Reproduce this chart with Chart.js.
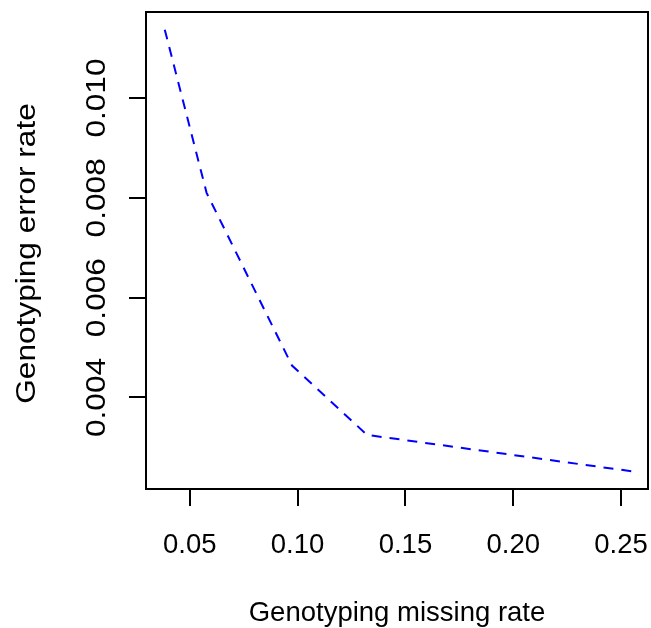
<!DOCTYPE html>
<html>
<head>
<meta charset="utf-8">
<script src="https://cdn.jsdelivr.net/npm/chart.js@4"></script>
<style>
  html, body { margin: 0; padding: 0; background: #fff; }
  #wrap { width: 651px; height: 628px; }
</style>
</head>
<body>
<div id="wrap"><canvas id="plot" width="651" height="628"></canvas></div>
<script>
// values
const missingRate = [0.0384, 0.0578, 0.0974, 0.1322, 0.2551];
const errorRate = [0.01137, 0.00810, 0.00464, 0.00325, 0.00252];
const xTicks = [0.05, 0.10, 0.15, 0.20, 0.25];
const yTicks = [0.004, 0.006, 0.008, 0.010];
const xTickLabels = ["0.05", "0.10", "0.15", "0.20", "0.25"];
const yTickLabels = ["0.004", "0.006", "0.008", "0.010"];
const xTitle = "Genotyping missing rate";
const yTitle = "Genotyping error rate";

const FONT = '27.5px "Liberation Sans", Arial, sans-serif';
const Y_STRETCH = 1.15; // rotated text in the reference is drawn a bit wider

// vertical text helper, reads bottom to top
function upText(ctx, txt, x, y){
	ctx.save();
	ctx.translate(x, y);
	ctx.rotate(-Math.PI / 2);
	ctx.scale(Y_STRETCH, 1);
	ctx.fillText(txt, 0, 0);
	ctx.restore();
}

// base-graphics style frame, ticks and labels
const rAxes = {
	id: "rAxes",
	afterDraw(chart){
		const ctx = chart.ctx;
		const a = chart.chartArea;
		const xs = chart.scales.x, ys = chart.scales.y;
		const tl = 17;
		ctx.save();
		ctx.strokeStyle = "#000";
		ctx.lineWidth = 2;
		ctx.strokeRect(a.left, a.top, a.right - a.left, a.bottom - a.top);

		ctx.beginPath();
		xTicks.forEach(v => {
			const px = Math.round(xs.getPixelForValue(v));
			ctx.moveTo(px, a.bottom);
			ctx.lineTo(px, a.bottom + tl);
		});
		yTicks.forEach(v => {
			const py = Math.round(ys.getPixelForValue(v));
			ctx.moveTo(a.left, py);
			ctx.lineTo(a.left - tl, py);
		});
		ctx.stroke();

		ctx.fillStyle = "#000";
		ctx.font = FONT;
		ctx.textAlign = "center";
		ctx.textBaseline = "alphabetic";
		xTicks.forEach((v, i) => {
			ctx.fillText(xTickLabels[i], xs.getPixelForValue(v), 553);
		});
		ctx.fillText(xTitle, (a.left + a.right) / 2, 621);

		yTicks.forEach((v, i) => {
			upText(ctx, yTickLabels[i], 105, ys.getPixelForValue(v));
		});
		upText(ctx, yTitle, 35, (a.top + a.bottom) / 2 + 3);
		ctx.restore();
	}
};

const data = missingRate.map((x, i) => ({x: x, y: errorRate[i]}));

new Chart(document.getElementById("plot"), {
	type: "scatter",
	data: {
		datasets: [{
			data: data,
			showLine: true,
			borderColor: "#0000ff",
			borderWidth: 2,
			borderDash: [10, 8],
			pointRadius: 0,
			tension: 0,
			fill: false
		}]
	},
	options: {
		responsive: false,
		animation: false,
		layout: { padding: { left: 146, top: 12, right: 3, bottom: 139 } },
		plugins: { legend: { display: false }, tooltip: { enabled: false } },
		scales: {
			x: { type: "linear", display: false, min: 0.0297, max: 0.2625 },
			y: { type: "linear", display: false, min: 0.002166, max: 0.011724 }
		}
	},
	plugins: [rAxes]
});
</script>
</body>
</html>
